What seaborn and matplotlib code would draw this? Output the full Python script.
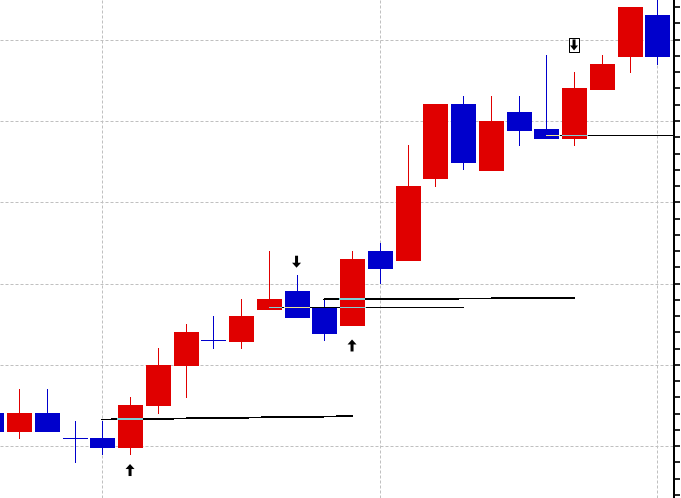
import numpy as np
import pandas as pd
import matplotlib
matplotlib.use("Agg")
import matplotlib.pyplot as plt
from matplotlib.path import Path
from matplotlib.ticker import MultipleLocator, FixedLocator
import seaborn as sns

# ---------------- data ----------------
bar_index = list(range(25))
opens = [104.08, 101.87, 104.08, 100.97, 101.01, 99.94, 105.07, 109.99, 113.03, 113.00,
         116.91, 119.09, 117.04, 114.94, 124.01, 122.90, 132.99, 142.09, 133.97, 141.11,
         139.02, 137.91, 143.94, 148.00, 153.04]
highs = [104.08, 107.04, 107.04, 103.10, 103.10, 106.05, 112.08, 115.03, 116.01, 118.11,
         124.01, 121.06, 117.98, 124.01, 124.99, 137.05, 142.09, 143.08, 143.08, 143.08,
         148.12, 146.03, 148.12, 154.02, 155.50]
lows = [101.87, 101.05, 101.87, 98.09, 99.08, 99.08, 104.12, 106.09, 112.12, 112.12,
        116.91, 115.93, 113.06, 114.94, 120.11, 122.90, 132.00, 134.10, 133.97, 137.05,
        137.91, 137.05, 143.94, 146.03, 147.01]
closes = [101.87, 104.08, 101.87, 100.97, 99.94, 105.07, 109.99, 114.05, 113.03, 116.01,
          118.11, 115.93, 113.96, 123.03, 121.96, 132.00, 142.09, 134.96, 140.00, 138.89,
          137.91, 144.06, 147.01, 154.02, 148.00]

# level / trend lines
line_start_bar = [4, 10, 12, 20]
line_end_bar = [13, 17, 21, 25]
line_start_price = [103.28, 117.08, 118.07, 138.24]
line_end_price = [103.69, 117.08, 118.23, 138.24]

# signal arrows
up_signal_bars = [5, 13]
up_signal_prices = [97.07, 112.39]
down_signal_bars = [11]
down_signal_prices = [122.69]
boxed_down_bars = [21]
boxed_down_prices = [149.35]

grid_bars = [4, 14, 24]

# ---------------- style ----------------
RED = "#e00000"
BLUE = "#0000cc"
XOR_ON_RED = "#7fd0d8"
XOR_ON_BLUE = "#f0e48c"
PX = 72 / 100.0  # one pixel in points
LINE_W = 0.6

sns.set_style("white")
plt.rcParams["font.family"] = ["DejaVu Sans"]

fig = plt.figure(figsize=(6.81, 4.98), dpi=100)
fig.patch.set_facecolor("white")
ax = fig.add_axes([0, 0, 674.3 / 681, 1])

df = pd.DataFrame(dict(bar=bar_index, open=opens, high=highs, low=lows, close=closes))
df["up"] = df["close"] > df["open"]
colors = np.where(df["up"], RED, BLUE)

# wicks
ax.vlines(df["bar"], df["low"], df["high"], colors=colors, lw=PX, zorder=2,
          antialiased=False)
# bodies
BODY_W = 0.865
ax.bar(df["bar"], df["close"] - df["open"], bottom=df["open"], width=BODY_W,
       color=colors, edgecolor=colors, linewidth=PX, zorder=3, antialiased=False)

# lines
rows = []
for i, (b0, b1, p0, p1) in enumerate(zip(line_start_bar, line_end_bar,
                                         line_start_price, line_end_price)):
    rows.append(dict(x=b0, y=p0, lid=i))
    rows.append(dict(x=b1, y=p1, lid=i))
lines_df = pd.DataFrame(rows)
sns.lineplot(data=lines_df, x="x", y="y", units="lid", estimator=None, sort=False,
             color="black", lw=LINE_W, ax=ax, zorder=4, legend=False, antialiased=False)

# XOR-like colouring where a line crosses a body
half = (BODY_W + 0.036) / 2
for b0, b1, p0, p1 in zip(line_start_bar, line_end_bar, line_start_price, line_end_price):
    for _, r in df.iterrows():
        xa = max(b0, r["bar"] - half)
        xb = min(b1, r["bar"] + half)
        if xb <= xa:
            continue
        ya = p0 + (p1 - p0) * (xa - b0) / (b1 - b0)
        yb = p0 + (p1 - p0) * (xb - b0) / (b1 - b0)
        lo, hi = min(r["open"], r["close"]), max(r["open"], r["close"])
        if lo <= ya <= hi and lo <= yb <= hi:
            ax.plot([xa, xb], [ya, yb], color=XOR_ON_RED if r["up"] else XOR_ON_BLUE,
                    lw=LINE_W, zorder=5, solid_capstyle="butt", antialiased=False)

# arrow markers
up_arrow = Path([(0, 6), (4.5, 1), (1.5, 1), (1.5, -6), (-1.5, -6), (-1.5, 1), (-4.5, 1), (0, 6)],
                [Path.MOVETO] + [Path.LINETO] * 6 + [Path.CLOSEPOLY])
down_arrow = Path([(x, -y) for x, y in up_arrow.vertices], up_arrow.codes)
small_down = Path([(0, -5.5), (4, -0.5), (1.5, -0.5), (1.5, 5.5), (-1.5, 5.5), (-1.5, -0.5), (-4, -0.5), (0, -5.5)],
                  [Path.MOVETO] + [Path.LINETO] * 6 + [Path.CLOSEPOLY])
box = Path([(-5, -7), (5, -7), (5, 7), (-5, 7), (-5, -7)],
           [Path.MOVETO] + [Path.LINETO] * 3 + [Path.CLOSEPOLY])

s12 = (12 * PX) ** 2
sns.scatterplot(x=up_signal_bars, y=up_signal_prices, marker=up_arrow, s=s12,
                color="black", edgecolor="none", linewidth=0, ax=ax, zorder=6, legend=False)
sns.scatterplot(x=down_signal_bars, y=down_signal_prices, marker=down_arrow, s=s12,
                color="black", edgecolor="none", linewidth=0, ax=ax, zorder=6, legend=False)
sns.scatterplot(x=boxed_down_bars, y=boxed_down_prices, marker=box, s=(14 * PX) ** 2,
                color="white", edgecolor="black", linewidth=PX, ax=ax, zorder=6, legend=False)
sns.scatterplot(x=boxed_down_bars, y=boxed_down_prices, marker=small_down, s=(11 * PX) ** 2,
                color="black", edgecolor="none", linewidth=0, ax=ax, zorder=7, legend=False)

# ---------------- axes ----------------
ax.set_xlim(0.3135, 24.613)
ax.set_ylim(93.63, 154.88)
ax.set_xlabel("")
ax.set_ylabel("")

ax.xaxis.set_major_locator(FixedLocator(grid_bars))
ax.yaxis.set_major_locator(MultipleLocator(10))
ax.yaxis.set_minor_locator(MultipleLocator(2))
ax.yaxis.tick_right()
ax.tick_params(axis="x", which="both", length=0, labelbottom=False, bottom=False)
ax.tick_params(axis="y", which="both", direction="out", length=4, width=1.2,
               color="black", right=True, left=False, labelright=False, labelleft=False)

ax.set_axisbelow(True)
ax.grid(True, which="major", color="#c0c0c0", linestyle=(0, (3, 2)), linewidth=PX)

for side in ["left", "top", "bottom"]:
    ax.spines[side].set_visible(False)
ax.spines["right"].set_visible(True)
ax.spines["right"].set_color("black")
ax.spines["right"].set_linewidth(1.44)
ax.set_facecolor("white")

fig.savefig("out.png", dpi=100, facecolor="white")
